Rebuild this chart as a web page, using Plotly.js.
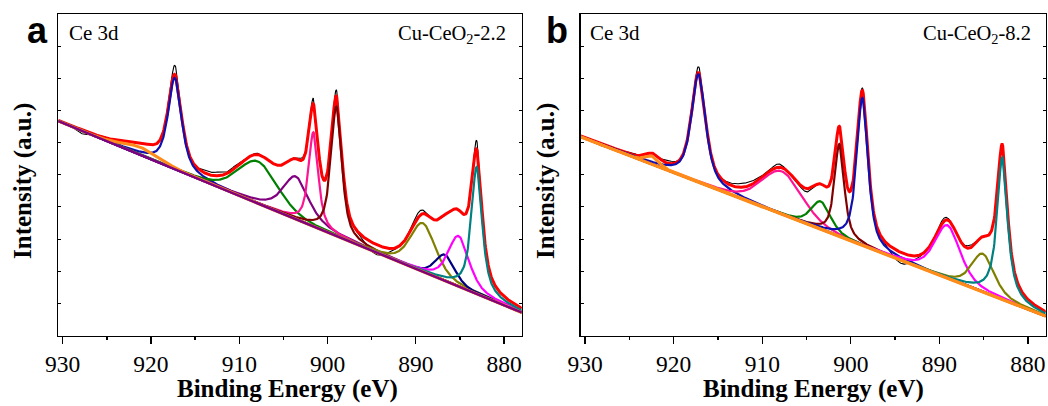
<!DOCTYPE html>
<html><head><meta charset="utf-8">
<script src="https://cdn.plot.ly/plotly-3.0.1.min.js"></script>
<style>html,body{margin:0;padding:0;background:#fff}#chart{width:1048px;height:406px}</style>
</head><body>
<div id="chart"></div>
<script>
// ---------------- data ----------------
const tickEnergies = [930, 920, 910, 900, 890, 880];
const minorTickEnergies = [925, 915, 905, 895, 885];

// Panel a : Cu-CeO2-2.2  (Ce 3d fit)
const baseA_E = [930.5, 878.0];
const baseA_I = [66.7, 7.15];
const peakA_center  = [921.0, 917.3, 907.9, 903.6, 901.6, 899.0, 889.2, 886.7, 885.15, 883.1];
const peakA_height  = [2.4, 28.4, 13.1, 13.3, 29.3, 40.3, 15.1, 8.1, 15.7, 39.5];
const peakA_fwhm    = [5.0, 1.8, 5.3, 3.5, 1.3, 1.45, 3.4, 2.6, 2.8, 1.45];
const peakA_lorentz = [0.0, 0.7, 0.3, 0.7, 0.7, 0.7, 0.45, 0.45, 0.55, 0.8];
// raw-spectrum deviations from the fit envelope (centre, size, width)
const rawA_devE = [929.6, 927.8, 925.5, 917.3, 913.8, 912.3, 910.5, 908.0, 903.0, 901.6, 899.0, 894.5, 889.7, 883.1];
const rawA_devI = [-0.5, -1.2, 0.3, 2.8, 1.0, 1.2, 0.8, 0.4, 0.7, 1.7, 1.9, -3.1, 1.5, 2.7];
const rawA_devW = [1.0, 1.5, 1.0, 0.8, 1.2, 1.5, 1.0, 1.0, 1.2, 0.6, 0.6, 2.5, 1.5, 0.6];

// Panel b : Cu-CeO2-8.2
const baseB_E = [930.5, 878.0];
const baseB_I = [61.8, 6.0];
const peakB_center  = [922.4, 917.2, 907.8, 903.4, 901.3, 898.7, 889.1, 885.1, 882.9];
const peakB_height  = [2.5, 33.6, 13.4, 8.7, 28.8, 45.9, 16.5, 11.9, 44.2];
const peakB_fwhm    = [1.8, 1.9, 5.4, 2.6, 1.3, 1.5, 3.4, 3.0, 1.4];
const peakB_lorentz = [0.3, 0.7, 0.3, 0.5, 0.7, 0.7, 0.5, 0.5, 0.9];
const rawB_devE = [928.0, 924.6, 920.5, 917.2, 912.0, 908.2, 905.0, 898.7, 894.3, 889.6, 886.6];
const rawB_devI = [-0.7, 0.5, 0.8, 1.8, 1.2, 1.0, -1.0, 0.8, -3.4, 1.0, 0.8];
const rawB_devW = [2.0, 1.0, 1.5, 0.8, 3.5, 1.2, 1.5, 0.6, 2.5, 1.2, 1.2];

// ---------------- styles ----------------
const colA = ['#FF8C1A', '#1010B0', '#008000', '#800080', '#FF1493', '#800000', '#808000', '#000080', '#FF00FF', '#008080'];
const colB = ['#FF8C1A', '#1010B0', '#FF1493', '#008000', '#800000', '#1010B0', '#FF00FF', '#808000', '#008080'];

// ---------------- build curves ----------------
const grid = [];
for (let i = 0; i <= 1050; i++) grid.push(878 + i * 0.05);

function pv(e, c, h, w, eta) {
  const d = e - c;
  const L = 1 / (1 + Math.pow(d / (w / 2), 2));
  const G = Math.exp(-4 * Math.LN2 * Math.pow(d / w, 2));
  return h * (eta * L + (1 - eta) * G);
}
function gauss(e, c, h, w) { return h * Math.exp(-4 * Math.LN2 * Math.pow((e - c) / w, 2)); }

function buildPanel(bE, bI, pc, ph, pw, pl, dE, dI, dW, cols, xa, ya, baseColor, thinBase) {
  const base = grid.map(e => bI[0] + (bI[1] - bI[0]) * (e - bE[0]) / (bE[1] - bE[0]));
  const comps = pc.map((c, k) => grid.map((e, i) => pv(e, c, ph[k], pw[k], pl[k])));
  const env = grid.map((e, i) => base[i] + comps.reduce((s, cp) => s + cp[i], 0));
  const raw = grid.map((e, i) => env[i] + dE.reduce((s, c, k) => s + gauss(e, c, dI[k], dW[k]), 0));
  const tr = [];
  tr.push({x: grid, y: raw, xaxis: xa, yaxis: ya, mode: 'lines', line: {color: '#000', width: 1.1}, hoverinfo: 'skip'});
  tr.push({x: grid, y: env, xaxis: xa, yaxis: ya, mode: 'lines', line: {color: '#FF0000', width: 3}, hoverinfo: 'skip'});
  for (let k = 1; k < pc.length; k++) {
    tr.push({x: grid, y: grid.map((e, i) => base[i] + comps[k][i]), xaxis: xa, yaxis: ya, mode: 'lines',
      line: {color: cols[k], width: 2.2}, hoverinfo: 'skip'});
  }
  tr.push({x: grid, y: grid.map((e, i) => base[i] + comps[0][i]), xaxis: xa, yaxis: ya, mode: 'lines',
    line: {color: cols[0], width: 3}, hoverinfo: 'skip'});
  tr.push({x: bE, y: bI, xaxis: xa, yaxis: ya, mode: 'lines', line: {color: baseColor, width: thinBase ? 2.4 : 3}, hoverinfo: 'skip'});
  return tr;
}

const traces = [].concat(
  buildPanel(baseA_E, baseA_I, peakA_center, peakA_height, peakA_fwhm, peakA_lorentz, rawA_devE, rawA_devI, rawA_devW, colA, 'x', 'y', '#800080', true),
  buildPanel(baseB_E, baseB_I, peakB_center, peakB_height, peakB_fwhm, peakB_lorentz, rawB_devE, rawB_devI, rawB_devW, colB, 'x2', 'y2', '#FF8C1A', false)
);

const W = 1048, H = 406;
const serif = 'Liberation Serif';
const sans = 'Liberation Sans';
function xAxis(dom) {
  return {domain: dom, range: [930.5, 878], autorange: false, tickmode: 'array', tickvals: tickEnergies,
    ticktext: tickEnergies.map(String), ticks: 'outside', ticklen: 7, tickwidth: 1.3, tickcolor: '#000',
    minor: {tickmode: 'array', tickvals: minorTickEnergies, ticks: 'outside', ticklen: 3.5, tickwidth: 1.3, tickcolor: '#000'},
    showline: true, linewidth: 1.3, linecolor: '#000', mirror: true, showgrid: false, zeroline: false,
    tickfont: {family: serif, size: 23.5, color: '#000'}};
}
function yAxis(anchor) {
  return {domain: [(H - 335.5) / H, (H - 14) / H], range: [0, 100], autorange: false, anchor: anchor,
    showticklabels: false, ticks: 'inside', ticklen: 3, tickwidth: 1, tickcolor: '#000', tick0: 0, dtick: 10,
    showline: true, linewidth: 1.3, linecolor: '#000', mirror: 'ticks', showgrid: false, zeroline: false};
}
function ann(text, x, y, size, family, xanchor, extra) {
  return Object.assign({text: text, x: x / W, y: (H - y) / H, xref: 'paper', yref: 'paper', showarrow: false,
    xanchor: xanchor, yanchor: 'middle', font: {family: family, size: size, color: '#000'}}, extra || {});
}
const layout = {
  width: W, height: H, margin: {l: 0, r: 0, t: 0, b: 0}, paper_bgcolor: '#fff', plot_bgcolor: '#fff', showlegend: false,
  font: {family: serif, color: '#000'},
  xaxis: Object.assign(xAxis([58.3 / W, 521.7 / W]), {anchor: 'y'}),
  yaxis: yAxis('x'),
  xaxis2: Object.assign(xAxis([580.7 / W, 1045.7 / W]), {anchor: 'y2'}),
  yaxis2: yAxis('x2'),
  annotations: [
    ann('<b>a</b>', 37, 31, 36, sans, 'center'),
    ann('<b>b</b>', 557, 31, 36, sans, 'center'),
    ann('Ce 3d', 67, 33, 21, serif, 'left'),
    ann('Ce 3d', 588, 33, 21, serif, 'left'),
    ann('Cu-CeO<sub>2</sub>-2.2', 508, 34, 20.5, serif, 'right'),
    ann('Cu-CeO<sub>2</sub>-8.2', 1033, 34, 20.5, serif, 'right'),
    ann('<b>Binding Energy (eV)</b>', 287, 389, 25, serif, 'center'),
    ann('<b>Binding Energy (eV)</b>', 813, 389, 25, serif, 'center'),
    ann('<b>Intensity (a.u.)</b>', 23, 181, 25, serif, 'center', {textangle: -90}),
    ann('<b>Intensity (a.u.)</b>', 546, 181, 25, serif, 'center', {textangle: -90})
  ]
};
Plotly.newPlot('chart', traces, layout, {staticPlot: true, displayModeBar: false});
</script></body></html>
